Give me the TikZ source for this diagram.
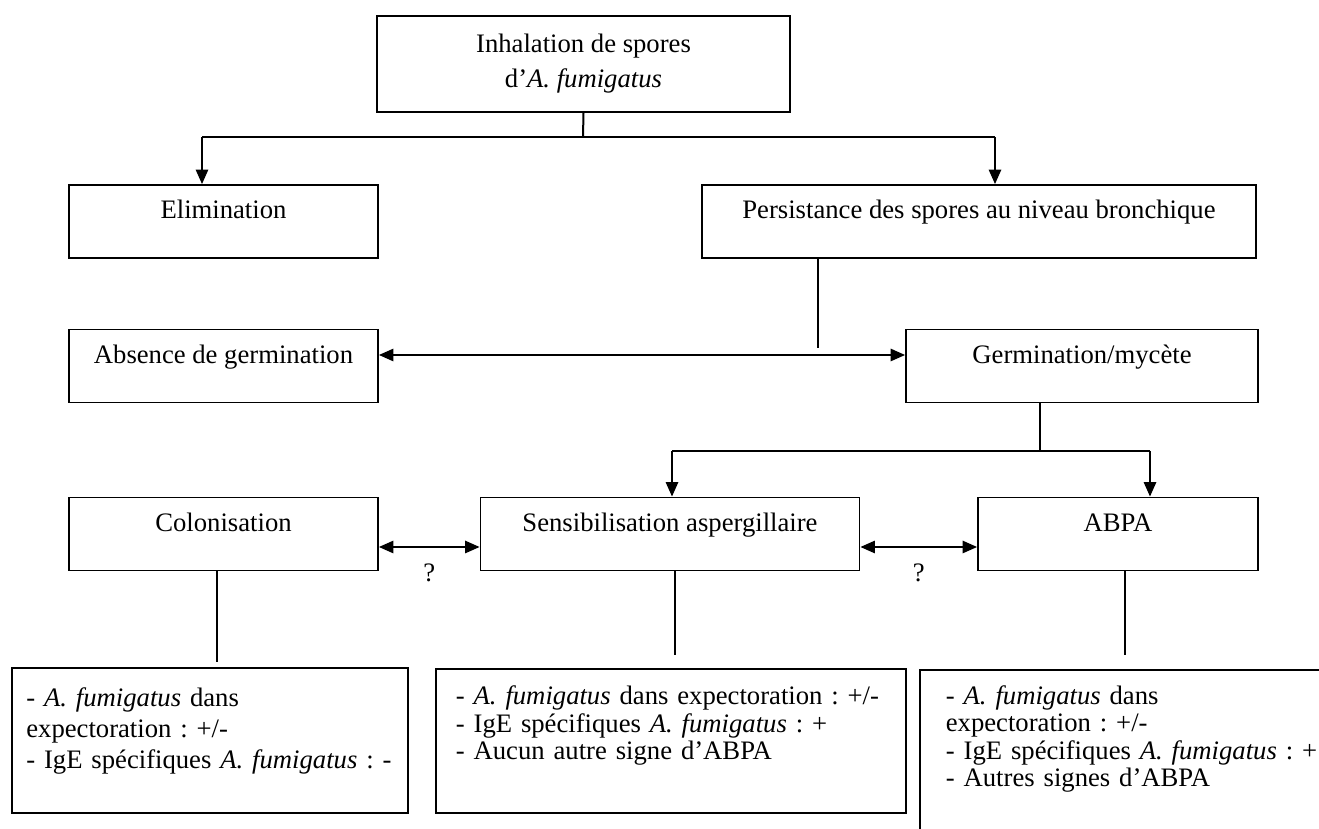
\documentclass[tikz,border=0pt]{standalone}
\usepackage{fontspec}
\setmainfont{Liberation Serif}
\usetikzlibrary{arrows.meta,positioning}

\begin{document}
\frenchspacing
\begin{tikzpicture}[x=0.45pt, y=-0.45pt,
    cell/.style={rectangle, draw=black, line width=0.8pt, inner xsep=2pt, inner ysep=0pt, align=center, font=\fontsize{12}{13.5}\selectfont},
    tblock/.style={cell, minimum width=185.9pt, minimum height=43.2pt, font=\fontsize{12}{15.75}\selectfont},
    sblock/.style={cell, minimum width=#1, text height=15.3pt, text depth=17.55pt},
    dblock/.style={cell, anchor=north west, align=left, text width=#1},
    flow/.style={line width=0.9pt, black},
    farrow/.style={flow, -{Triangle[length=6.5pt, width=5.5pt]}},
    barrow/.style={flow, {Triangle[length=6.5pt, width=5.5pt]}-{Triangle[length=6.5pt, width=5.5pt]}},
    qmark/.style={font=\fontsize{12}{13.5}\selectfont, inner sep=0pt}
  ]
    \clip (0,0) rectangle (1319,829);

    % Inhalation and first split
    \node[tblock] (inhal) at (583.5,64) {Inhalation de spores\\d’\textit{A. fumigatus}};
    \node[sblock=139.05pt] (elim) at (223.5,221.5) {Elimination};
    \node[sblock=249.3pt] (persist) at (979,221.5) {Persistance des spores au niveau bronchique};

    \coordinate (split1) at (583,137);
    \coordinate (split1l) at (202,137);
    \coordinate (split1r) at (995,137);
    \draw[flow] (inhal.south) -- (split1);
    \draw[flow] (split1l) -- (split1r);
    \draw[farrow] (split1l) -- (split1l |- elim.north);
    \draw[farrow] (split1r) -- (split1r |- persist.north);

    % Germination or not
    \node[sblock=139.05pt] (absence) at (223.5,366) {Absence de germination};
    \node[sblock=158.4pt] (germ) at (1082,366) {Germination/mycète};

    \coordinate (persistend) at (818,348);
    \draw[flow] (persist.south -| persistend) -- (persistend);
    \draw[barrow] ([yshift=4.95pt]absence.east) -- ([yshift=4.95pt]germ.west);

    % Second split
    \node[sblock=139.05pt] (colon) at (223.5,534) {Colonisation};
    \node[sblock=170.55pt] (sensib) at (670,534) {Sensibilisation aspergillaire};
    \node[sblock=126pt] (abpa) at (1118,534) {ABPA};

    \coordinate (split2) at (1040,451);
    \coordinate (split2l) at (672,451);
    \coordinate (split2r) at (1150,451);
    \draw[flow] (germ.south -| split2) -- (split2);
    \draw[flow] (split2l) -- (split2r);
    \draw[farrow] (split2l) -- (split2l |- sensib.north);
    \draw[farrow] (split2r) -- (split2r |- abpa.north);

    \draw[barrow] ([yshift=-5.85pt]colon.east) -- node[qmark, yshift=-11.7pt] (q1) {?} ([yshift=-5.85pt]sensib.west);
    \draw[barrow] ([yshift=-5.85pt]sensib.east) -- node[qmark, yshift=-11.7pt] (q2) {?} ([yshift=-5.85pt]abpa.west);

    % Findings
    \node[dblock=165.2pt, inner xsep=6.5pt, text height=17.5pt, text depth=47.75pt, font=\fontsize{12}{14}\selectfont] (colonres) at (11,667)
      {- \textit{A. fumigatus} dans\\expectoration : +/-\\\mbox{- IgE spécifiques \textit{A. fumigatus} : -}};
    \node[dblock=193.5pt, inner xsep=9pt, text height=16pt, text depth=48.8pt, font=\fontsize{12}{12.4}\selectfont] (sensibres) at (435,668)
      {- \textit{A. fumigatus} dans expectoration : +/-\\- IgE spécifiques \textit{A. fumigatus} : +\\- Aucun autre signe d’ABPA};
    \node[dblock=180pt, inner xsep=11.7pt, text height=15.5pt, text depth=60pt, font=\fontsize{12}{12.4}\selectfont] (abpares) at (919,669)
      {- \textit{A. fumigatus} dans\\expectoration : +/-\\- IgE spécifiques \textit{A. fumigatus} : +\\- Autres signes d’ABPA};

    \coordinate (colonend) at (217,662);
    \coordinate (sensibend) at (675,655);
    \coordinate (abpaend) at (1125,655);
    \draw[flow] (colon.south -| colonend) -- (colonend);
    \draw[flow] (sensib.south -| sensibend) -- (sensibend);
    \draw[flow] (abpa.south -| abpaend) -- (abpaend);
  \end{tikzpicture}
\end{document}
